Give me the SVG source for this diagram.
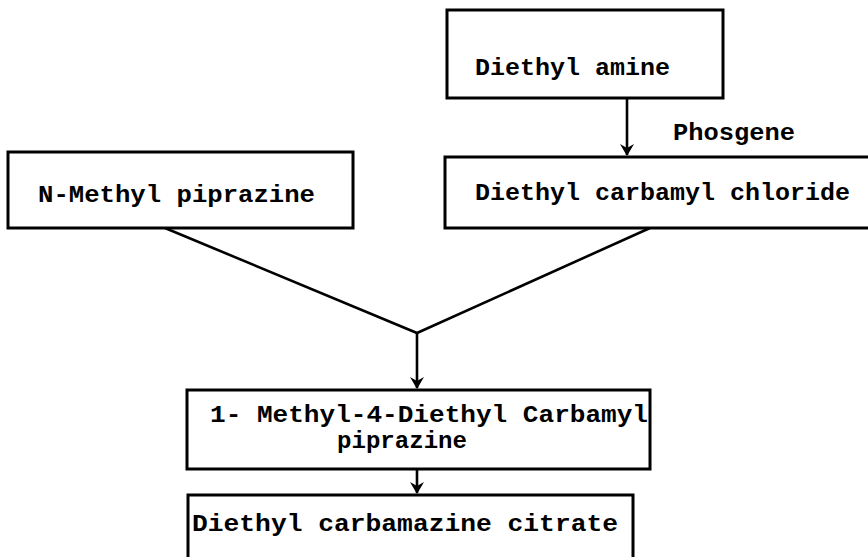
<svg xmlns="http://www.w3.org/2000/svg" width="868" height="557" viewBox="0 0 868 557">
<style>
.box{fill:#fff;stroke:#000;stroke-width:3}
.t{font-family:"Liberation Mono","Courier New",monospace;font-size:23px;font-weight:bold;fill:#000}
.c{fill:none;stroke:#000;stroke-width:2.6}
</style>
<defs>
<marker id="ah" viewBox="0 0 12 14" refX="11" refY="7" markerWidth="12" markerHeight="14" markerUnits="userSpaceOnUse" orient="auto">
<path d="M0,0 L12,7 L0,14 L4,7 Z" fill="#000"/>
</marker>
</defs>
<rect width="868" height="557" fill="#fff"/>
<g id="connectors">
<line class="c" x1="627" y1="99" x2="627" y2="155" marker-end="url(#ah)"/>
<polyline class="c" points="165,228 417,333 650,228"/>
<line class="c" x1="417" y1="333" x2="417" y2="388" marker-end="url(#ah)"/>
<line class="c" x1="417" y1="470" x2="417" y2="493" marker-end="url(#ah)"/>
<text class="t" x="673" y="140" textLength="122" lengthAdjust="spacingAndGlyphs">Phosgene</text>
</g>
<g id="diethyl-amine">
<rect class="box" x="447" y="10" width="276" height="88"/>
<text class="t" x="475" y="75" textLength="195" lengthAdjust="spacingAndGlyphs">Diethyl amine</text>
</g>
<g id="diethyl-carbamyl-chloride">
<rect class="box" x="445" y="157" width="430" height="71"/>
<text class="t" x="475" y="200" textLength="375" lengthAdjust="spacingAndGlyphs">Diethyl carbamyl chloride</text>
</g>
<g id="n-methyl-piprazine">
<rect class="box" x="8" y="152" width="345" height="76"/>
<text class="t" x="38" y="202" textLength="277" lengthAdjust="spacingAndGlyphs">N-Methyl piprazine</text>
</g>
<g id="methyl-diethyl-carbamyl-piprazine">
<rect class="box" x="187" y="390" width="463" height="79"/>
<text class="t" x="210" y="422" textLength="438" lengthAdjust="spacingAndGlyphs">1- Methyl-4-Diethyl Carbamyl</text>
<text class="t" x="337" y="448" textLength="130" lengthAdjust="spacingAndGlyphs">piprazine</text>
</g>
<g id="diethyl-carbamazine-citrate">
<rect class="box" x="188" y="495" width="445" height="70"/>
<text class="t" x="192" y="531" textLength="426" lengthAdjust="spacingAndGlyphs">Diethyl carbamazine citrate</text>
</g>
</svg>
